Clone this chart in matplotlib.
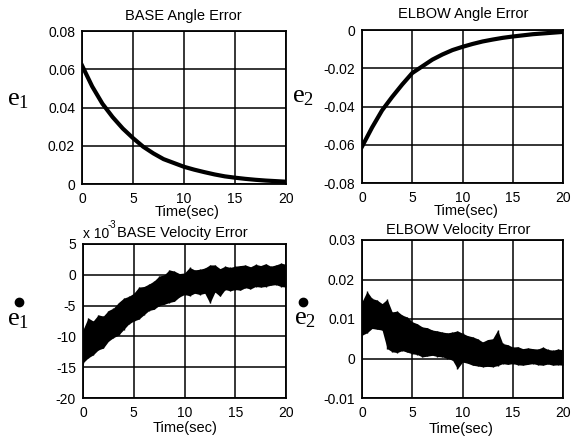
import numpy as np
import matplotlib
matplotlib.use('Agg')
import matplotlib.pyplot as plt
from matplotlib.lines import Line2D

plt.rcParams['font.family'] = ['Liberation Sans', 'DejaVu Sans']

# angle errors, read every second
t_ang = list(range(0, 21))
e1 = [0.062, 0.051, 0.042, 0.035, 0.029, 0.024, 0.0195, 0.016, 0.013, 0.011, 0.009,
      0.0075, 0.0062, 0.005, 0.004, 0.0033, 0.0027, 0.0022, 0.0018, 0.0015, 0.0012]
e2 = [-0.061, -0.051, -0.042, -0.035, -0.0285, -0.0225, -0.019, -0.0155, -0.0128, -0.0105, -0.0088,
      -0.0073, -0.006, -0.005, -0.0041, -0.0034, -0.0028, -0.0022, -0.0018, -0.0014, -0.001]

# velocity errors: noisy traces, upper / lower envelope every 0.5 s
t_vel = [i * 0.5 for i in range(41)]
de1_hi = [-8.9, -7.0, -7.5, -6.5, -6.7, -5.8, -5.4, -4.5, -3.8, -3.5, -3.0, -2.0, -1.9, -1.5,
          -1.0, -0.2, 0.0, 0.8, 0.6, 0.2, 0.3, 1.2, 0.8, 0.9, 1.1, 1.6, 1.6, 1.0, 1.4, 1.2,
          1.4, 1.5, 1.6, 1.3, 1.7, 1.5, 1.8, 1.4, 1.6, 1.9, 1.7]
de1_lo = [-14.3, -13.5, -13.0, -12.2, -11.9, -10.8, -10.2, -9.8, -8.9, -8.0, -7.5, -7.2, -6.5,
          -5.8, -5.6, -5.0, -4.8, -4.5, -4.3, -3.6, -3.2, -3.4, -3.0, -3.2, -3.0, -4.6, -2.8,
          -3.5, -2.4, -2.6, -2.4, -2.5, -2.1, -2.3, -1.9, -2.0, -1.9, -1.7, -1.6, -1.9, -2.0]
de2_hi = [0.0144, 0.0170, 0.0152, 0.0148, 0.0139, 0.0150, 0.0118, 0.0120, 0.0110, 0.0105, 0.0093,
          0.0088, 0.0080, 0.0078, 0.0072, 0.0070, 0.0067, 0.0065, 0.0067, 0.0070, 0.0064, 0.0058,
          0.0055, 0.0050, 0.0042, 0.0048, 0.0050, 0.0072, 0.0038, 0.0035, 0.0029, 0.0030, 0.0025,
          0.0027, 0.0025, 0.0024, 0.0029, 0.0023, 0.0021, 0.0024, 0.0022]
de2_lo = [0.0059, 0.0065, 0.0076, 0.0074, 0.0072, 0.0025, 0.0017, 0.0015, 0.0020, 0.0016, 0.0012,
          0.0010, 0.0004, 0.0006, 0.0008, 0.0005, 0.0004, 0.0000, -0.0004, -0.0026, -0.0009, -0.0012,
          -0.0017, -0.0019, -0.0021, -0.0020, -0.0021, -0.0018, -0.0013, -0.0015, -0.0013, -0.0016,
          -0.0017, -0.0015, -0.0013, -0.0016, -0.0017, -0.0014, -0.0017, -0.0016, -0.0017]

W, H = 571, 443
fig = plt.figure(figsize=(W / 100, H / 100), dpi=100)


def axes_px(x0, y0, x1, y1):
    return fig.add_axes([x0 / W, 1 - y1 / H, (x1 - x0) / W, (y1 - y0) / H])


def style(ax, yticks, ylabels):
    ax.set_xlim(0, 20)
    ax.set_xticks([0, 5, 10, 15, 20])
    ax.set_ylim(yticks[0], yticks[-1])
    ax.set_yticks(yticks)
    ax.set_yticklabels(ylabels)
    ax.grid(True, color='black', linewidth=1.1)
    ax.tick_params(length=0, labelsize=10, pad=5)
    ax.tick_params(axis='x', pad=6)
    for s in ax.spines.values():
        s.set_linewidth(1.3)


ax1 = axes_px(82, 31, 286, 184)
ax1.plot(t_ang, e1, color='black', linewidth=3)
style(ax1, [0, 0.02, 0.04, 0.06, 0.08], ['0', '0.02', '0.04', '0.06', '0.08'])

ax2 = axes_px(362, 30, 563, 183)
ax2.plot(t_ang, e2, color='black', linewidth=3)
style(ax2, [-0.08, -0.06, -0.04, -0.02, 0], ['-0.08', '-0.06', '-0.04', '-0.02', '0'])

ax3 = axes_px(83, 244, 286, 398)
ax3.fill_between(t_vel, de1_lo, de1_hi, color='black', linewidth=0)
ax3.vlines(t_vel, de1_lo, de1_hi, color='black', linewidth=1)
style(ax3, [-20, -15, -10, -5, 0, 5], ['-20', '-15', '-10', '-5', '0', '5'])

ax4 = axes_px(362, 240, 563, 398)
ax4.fill_between(t_vel, de2_lo, de2_hi, color='black', linewidth=0)
ax4.vlines(t_vel, de2_lo, de2_hi, color='black', linewidth=1)
style(ax4, [-0.01, 0, 0.01, 0.02, 0.03], ['-0.01', '0', '0.01', '0.02', '0.03'])

# titles and time labels
tk = dict(fontsize=10.5, ha='center', va='center')
fig.text(183 / W, 1 - 16 / H, 'BASE Angle Error', **tk)
fig.text(463 / W, 1 - 14 / H, 'ELBOW Angle Error', **tk)
fig.text(117 / W, 1 - 233 / H, 'BASE Velocity Error', fontsize=10.5, ha='left', va='center')
fig.text(458 / W, 1 - 230 / H, 'ELBOW Velocity Error', **tk)
fig.text(83 / W, 1 - 234 / H, 'x 10', fontsize=10, ha='left', va='center')
fig.text(108 / W, 1 - 225 / H, '-3', fontsize=7, ha='left', va='center')
fig.text(187 / W, 1 - 212 / H, 'Time(sec)', **tk)
fig.text(466 / W, 1 - 211 / H, 'Time(sec)', **tk)
fig.text(185 / W, 1 - 428 / H, 'Time(sec)', **tk)
fig.text(461 / W, 1 - 429 / H, 'Time(sec)', **tk)

# state labels
sk = dict(family='Liberation Serif', fontsize=19, ha='left', va='center')
fig.text(7 / W, 1 - 100 / H, r'$\mathregular{e_1}$', **sk)
fig.text(292 / W, 1 - 97 / H, r'$\mathregular{e_2}$', **sk)
fig.text(7 / W, 1 - 320 / H, r'$\mathregular{e_1}$', **sk)
fig.text(294 / W, 1 - 319 / H, r'$\mathregular{e_2}$', **sk)
fig.add_artist(Line2D([19 / W], [1 - 302 / H], marker='o', ms=6, color='black', transform=fig.transFigure))
fig.add_artist(Line2D([303 / W], [1 - 302 / H], marker='o', ms=6, color='black', transform=fig.transFigure))

fig.savefig('out.png', dpi=100)
